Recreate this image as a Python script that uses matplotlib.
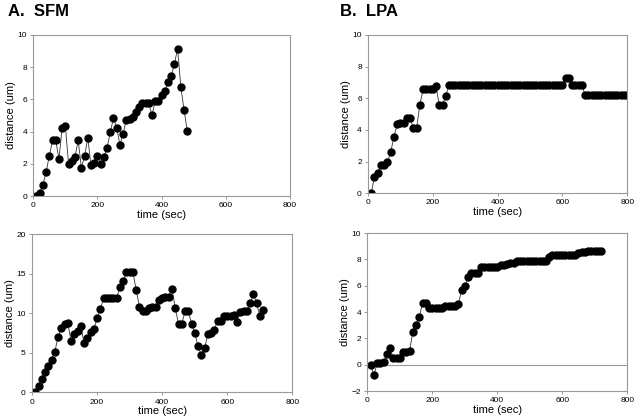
"""
Distance over time for SFM and LPA tracks, drawn as four scatter-line panels.
"""
import matplotlib
matplotlib.use('Agg')
import matplotlib.pyplot as plt
import numpy as np

plt.rcParams['font.family'] = ['Liberation Sans', 'DejaVu Sans']

# sample times are every 10 s starting at 10 s
sfm_top = [0, 0.2, 0.7, 1.5, 2.5, 3.45, 3.45, 2.3, 4.25, 4.35,
           2.0, 2.2, 2.45, 3.45, 1.75, 2.5, 3.6, 1.9, 2.05, 2.5,
           2.0, 2.4, 3.0, 3.95, 4.85, 4.25, 3.2, 3.85, 4.75, 4.8,
           4.9, 5.2, 5.5, 5.75, 5.75, 5.75, 5.0, 5.9, 5.9, 6.25,
           6.5, 7.05, 7.45, 8.2, 9.15, 6.75, 5.35, 4.05]

lpa_top = ([0, 1.05, 1.25, 1.75, 1.75, 1.95, 2.6, 3.55, 4.35, 4.45,
            4.45, 4.75, 4.75, 4.1, 4.1, 5.6, 6.55, 6.55, 6.55, 6.55,
            6.75, 5.55, 5.55, 6.15]
           + [6.85] * 36 + [7.25, 7.25] + [6.85] * 4 + [6.2] * 14)

sfm_bottom = [0, 0.8, 1.7, 2.6, 3.35, 4.15, 5.1, 7.05, 8.1, 8.7,
              8.8, 6.45, 7.35, 7.75, 8.35, 6.25, 6.85, 7.65, 8.05, 9.35,
              10.5, 11.95, 11.95, 11.95, 11.95, 11.95, 13.3, 14.05, 15.2, 15.2,
              15.2, 12.95, 10.85, 10.3, 10.3, 10.7, 10.85, 10.85, 11.75, 11.95,
              12.05, 12.05, 13.1, 10.65, 8.65, 8.7, 10.25, 10.25, 8.7, 7.5,
              5.8, 4.75, 5.55, 7.35, 7.55, 7.95, 9.05, 9.05, 9.65, 9.65,
              9.65, 9.75, 8.95, 10.15, 10.35, 10.35, 11.25, 12.45, 11.25, 9.65,
              10.45]

lpa_bottom = ([0, -0.8, 0.1, 0.1, 0.2, 0.8, 1.25, 0.5, 0.5, 0.5,
               0.95, 0.95, 1.05, 2.5, 3.05, 3.65, 4.7, 4.7, 4.3, 4.3,
               4.3, 4.3, 4.3, 4.45, 4.45, 4.45, 4.45, 4.6, 5.65, 6.0,
               6.65, 6.95, 6.95, 6.95, 7.4, 7.4, 7.4, 7.4, 7.4, 7.4,
               7.55, 7.6, 7.65, 7.7, 7.7]
              + [7.85] * 7 + [7.9] * 3 + [8.2] + [8.3] * 8
              + [8.5, 8.55, 8.6] + [8.65] * 5)

titles = ['A.  SFM', 'B.  LPA']

# axes boxes in figure fractions: [left, bottom, width, height]
panels = [
    (sfm_top, [0.052, 0.533, 0.401, 0.384], (0, 10), [0, 2, 4, 6, 8, 10]),
    (lpa_top, [0.575, 0.540, 0.405, 0.377], (0, 10), [0, 2, 4, 6, 8, 10]),
    (sfm_bottom, [0.050, 0.066, 0.407, 0.376], (0, 20), [0, 5, 10, 15, 20]),
    (lpa_bottom, [0.574, 0.069, 0.406, 0.376], (-2, 10), [-2, 0, 2, 4, 6, 8, 10]),
]

fig = plt.figure(figsize=(6.4, 4.2), dpi=100)

for i, (values, box, ylim, yticks) in enumerate(panels):
    ax = fig.add_axes(box)
    times = np.arange(1, len(values) + 1) * 10
    if ylim[0] < 0:
        ax.axhline(0, color='#999999', lw=0.8, zorder=1)
    ax.plot(times, values, color='#333333', lw=0.6, marker='o',
            markersize=5.0, markerfacecolor='black', markeredgecolor='black',
            zorder=2)
    ax.set_xlim(0, 800)
    ax.set_ylim(*ylim)
    ax.set_xticks([0, 200, 400, 600, 800])
    ax.set_yticks(yticks)
    ax.tick_params(labelsize=6, length=2.5, width=0.6, colors='#888888',
                   labelcolor='black', pad=2)
    for spine in ax.spines.values():
        spine.set_color('#999999')
        spine.set_linewidth(0.8)
    ax.set_xlabel('time (sec)', fontsize=8, labelpad=0.5)
    ax.set_ylabel('distance (um)', fontsize=8, labelpad=1)

for k, title in enumerate(titles):
    fig.text(0.012 + k * 0.52, 0.99, title, fontsize=12, fontweight='bold',
             va='top', ha='left')

fig.savefig('out.png', dpi=100)
plt.close(fig)
